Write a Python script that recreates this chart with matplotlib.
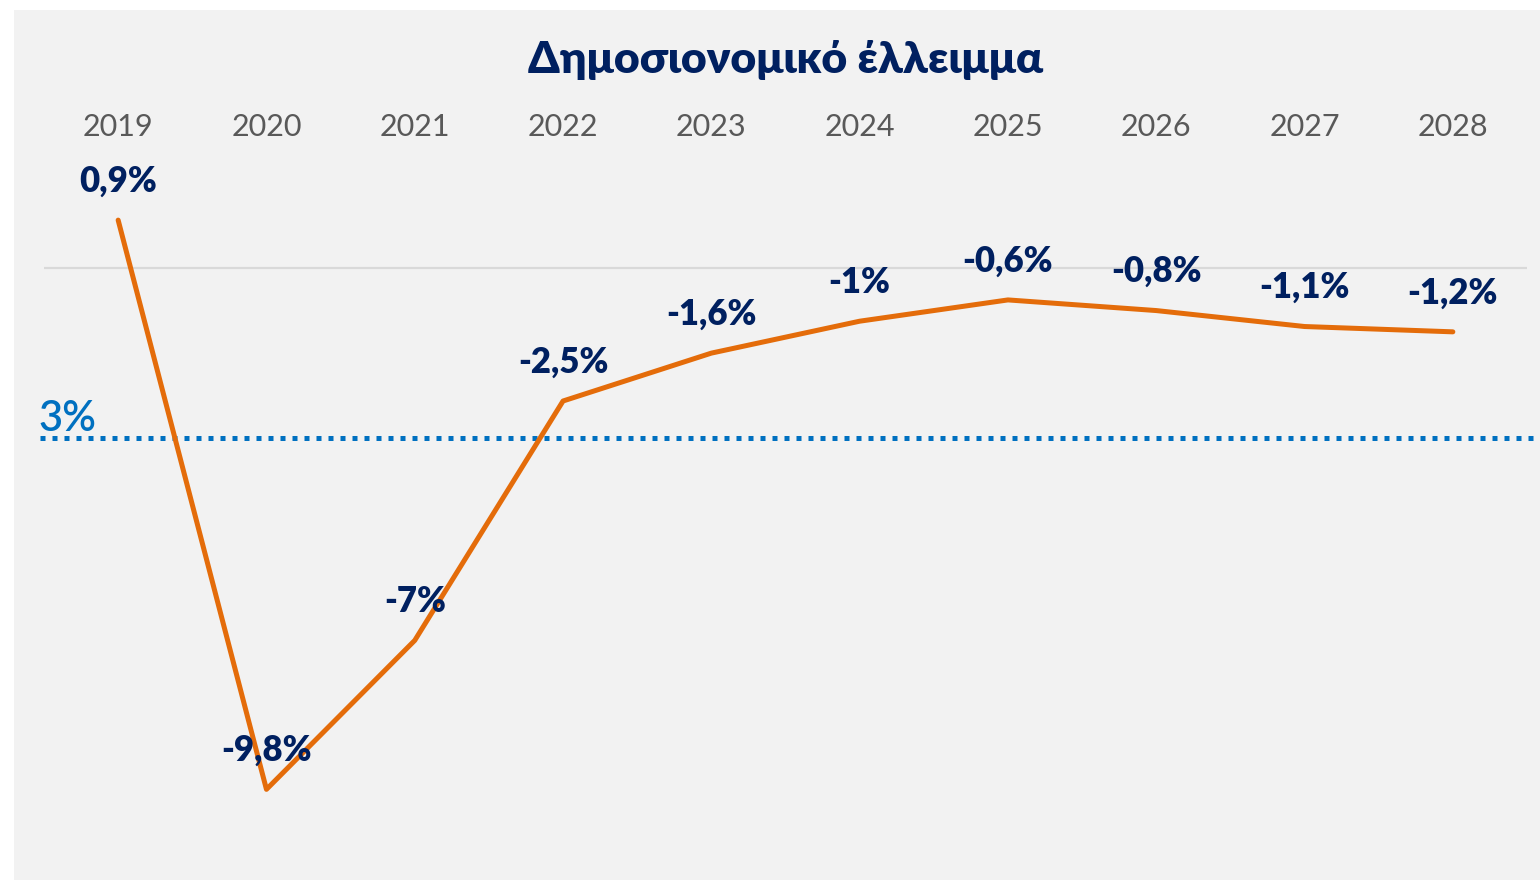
import matplotlib
matplotlib.use("Agg")
import matplotlib.pyplot as plt
from matplotlib.patches import Rectangle
import matplotlib.transforms as mtransforms

years = ["2019", "2020", "2021", "2022", "2023", "2024", "2025", "2026", "2027", "2028"]
deficit = [0.9, -9.8, -7.0, -2.5, -1.6, -1.0, -0.6, -0.8, -1.1, -1.2]
labels = ["0,9%", "-9,8%", "-7%", "-2,5%", "-1,6%", "-1%", "-0,6%", "-0,8%", "-1,1%", "-1,2%"]
threshold = -3.2
threshold_label = "3%"
title = "Δημοσιονομικό έλλειμμα"

W, H = 1540, 880
fig = plt.figure(figsize=(W / 100, H / 100), dpi=100)
fig.patch.set_facecolor("white")
fig.add_artist(Rectangle((14 / W, 0), 1 - 14 / W, 1 - 10 / H, transform=fig.transFigure,
                         facecolor="#f2f2f2", edgecolor="none", zorder=0))

ax_left, ax_right = 44, 1527
ax_top, ax_bot = 160, 860
ax = fig.add_axes([ax_left / W, 1 - ax_bot / H, (ax_right - ax_left) / W, (ax_bot - ax_top) / H])
ax.set_facecolor("none")
px_per_unit = 53.2
ymax = (268 - ax_top) / px_per_unit
ymin = ymax - (ax_bot - ax_top) / px_per_unit
ax.set_ylim(ymin, ymax)
ax.set_xlim(-0.5, len(years) - 0.5)

x = list(range(len(years)))
ax.axhline(0, color="#d9d9d9", lw=1.6, zorder=1)

trans = mtransforms.blended_transform_factory(ax.transAxes, ax.transData)
ax.plot([(40 - ax_left) / (ax_right - ax_left), (1540 - ax_left) / (ax_right - ax_left)],
        [threshold, threshold], transform=trans, color="#0070c0", lw=3.6,
        linestyle=(0, (1, 1.4)), dash_capstyle="butt", clip_on=False, zorder=2)
ax.text((38 - ax_left) / (ax_right - ax_left), threshold, threshold_label, transform=trans,
        color="#0070c0", fontsize=30, fontfamily="Lato", ha="left", va="bottom",
        fontweight="semibold")

ax.plot(x, deficit, color="#e46c0a", lw=3.6, solid_capstyle="round",
        solid_joinstyle="round", zorder=3)

for xi, v, lab in zip(x, deficit, labels):
    ax.annotate(lab, (xi, v), xytext=(0, 28), textcoords="offset points",
                ha="center", va="center", color="#002060", fontsize=25,
                fontweight="heavy", fontfamily="Lato", zorder=4)

ax.xaxis.tick_top()
ax.set_xticks(x)
ax.set_xticklabels(years, fontsize=22, color="#595959", fontfamily="Lato", fontweight="normal")
ax.tick_params(axis="x", length=0, pad=14)
ax.set_yticks([])
for s in ax.spines.values():
    s.set_visible(False)

fig.text((ax_left + ax_right) / 2 / W, 1 - 60 / H, title, ha="center", va="center",
         color="#002060", fontsize=32, fontweight="heavy", fontfamily="Lato")

fig.savefig("out.png", dpi=100, facecolor="white")
